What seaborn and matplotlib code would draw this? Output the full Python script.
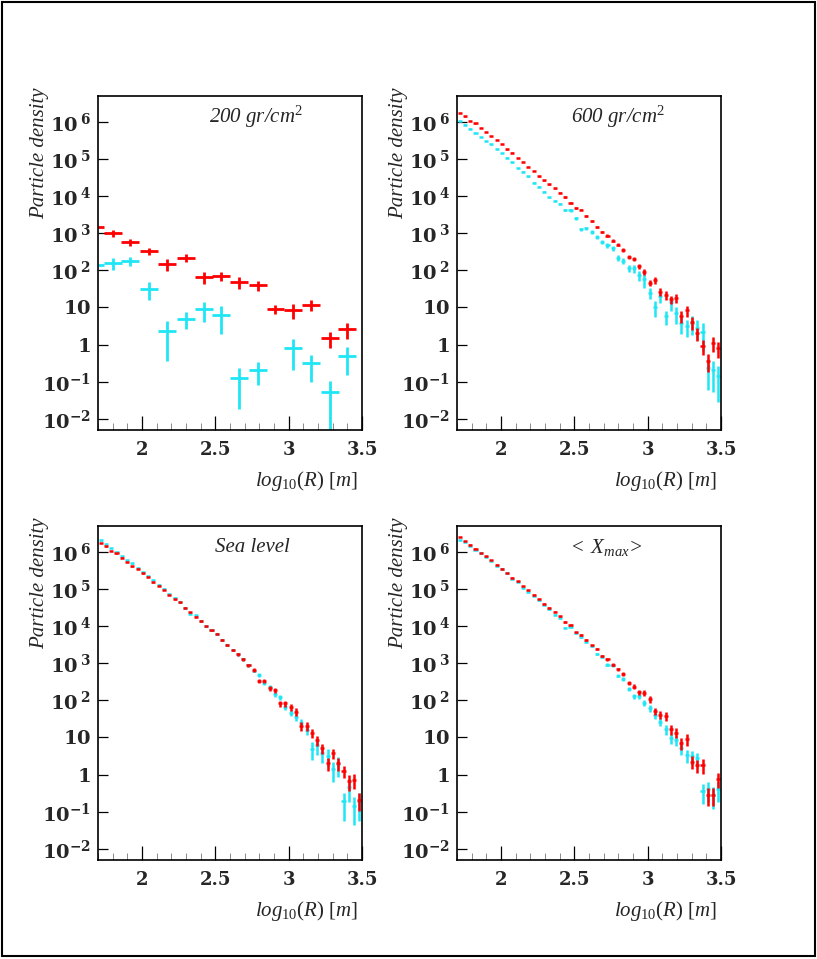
import numpy as np
import matplotlib
matplotlib.use("Agg")
import matplotlib.pyplot as plt
import matplotlib.ticker as mticker
from matplotlib.patches import Rectangle
import seaborn as sns

# bin centres in log10(R) [m]
r_coarse = [1.68, 1.80, 1.92, 2.05, 2.17, 2.30, 2.42, 2.54, 2.66, 2.79, 2.91, 3.03, 3.15, 3.28, 3.40]
r_fine = [1.718, 1.754, 1.790, 1.826, 1.862, 1.898, 1.934, 1.970, 2.006, 2.042,
          2.078, 2.114, 2.150, 2.186, 2.222, 2.258, 2.294, 2.330, 2.366, 2.402,
          2.438, 2.474, 2.510, 2.546, 2.582, 2.618, 2.654, 2.690, 2.726, 2.762,
          2.798, 2.834, 2.870, 2.906, 2.942, 2.978, 3.014, 3.050, 3.086, 3.122,
          3.158, 3.194, 3.230, 3.266, 3.302, 3.338, 3.374, 3.410, 3.446, 3.482]

# log10 of particle density (red / cyan series)
red_200 = [3.18, 3.00, 2.76, 2.52, 2.17, 2.34, 1.82, 1.86, 1.70, 1.61, 0.96, 0.94, 1.08, 0.17, 0.42]
cyan_200 = [2.15, 2.21, 2.25, 1.50, 0.37, 0.70, 0.96, 0.80, -0.90, -0.68, np.nan, -0.09, -0.50, -1.27, -0.30]
red_200_err = [0.20, 0.20, 0.20, 0.23, 0.33, 0.25, 0.36, 0.28, 0.36, 0.30, 0.27, 0.42, 0.33, 0.45, 0.45]
cyan_200_err = [0.30, 0.35, 0.28, 0.50, 0.85, 0.48, 0.55, 0.70, 0.85, 0.60, np.nan, 0.75, 0.68, 0.95, 0.70]

red_600 = [6.25, 6.15, 6.03, 5.96, 5.84, 5.73, 5.62, 5.51, 5.40, 5.26,
           5.17, 5.03, 4.92, 4.79, 4.68, 4.54, 4.43, 4.32, 4.21, 4.09,
           3.98, 3.82, 3.68, 3.64, 3.47, 3.33, 3.18, 3.04, 2.93, 2.80,
           2.69, 2.55, 2.37, 2.31, 2.12, 1.96, 1.67, 1.73, 1.43, 1.34,
           1.22, 1.25, 0.78, 0.92, 0.61, 0.31, -0.03, -0.43, 0.04, -0.09]
cyan_600 = [6.03, 5.93, 5.82, 5.71, 5.60, 5.49, 5.40, 5.27, 5.17, 5.04,
            4.91, 4.76, 4.66, 4.54, 4.36, 4.25, 4.12, 3.97, 3.88, 3.80,
            3.64, 3.62, 3.40, 3.11, 3.14, 3.03, 2.91, 2.76, 2.68, 2.59,
            2.34, 2.26, 2.06, 2.06, 1.87, 1.76, 1.40, 1.01, 1.30, 0.76,
            1.14, 0.85, 0.58, 0.49, 0.58, 0.46, 0.35, -0.63, -0.68, -0.84]
red_600_err = [0.01, 0.01, 0.01, 0.01, 0.01, 0.01, 0.01, 0.01, 0.01, 0.01,
               0.02, 0.02, 0.02, 0.02, 0.02, 0.03, 0.03, 0.03, 0.03, 0.04,
               0.04, 0.05, 0.05, 0.05, 0.06, 0.07, 0.07, 0.08, 0.09, 0.10,
               0.10, 0.11, 0.13, 0.14, 0.16, 0.18, 0.20, 0.20, 0.24, 0.25,
               0.26, 0.26, 0.35, 0.32, 0.38, 0.40, 0.45, 0.50, 0.42, 0.45]
cyan_600_err = [0.01, 0.01, 0.01, 0.01, 0.01, 0.01, 0.01, 0.01, 0.01, 0.01,
                0.02, 0.02, 0.02, 0.03, 0.03, 0.03, 0.04, 0.04, 0.05, 0.05,
                0.06, 0.08, 0.08, 0.09, 0.10, 0.11, 0.12, 0.13, 0.16, 0.17,
                0.20, 0.20, 0.23, 0.25, 0.30, 0.40, 0.32, 0.45, 0.35, 0.40,
                0.42, 0.48, 0.50, 0.48, 0.52, 0.55, 0.70, 0.75, 0.75, 0.80]

red_sea = [6.24, 6.15, 6.03, 5.96, 5.85, 5.73, 5.61, 5.55, 5.42, 5.33,
           5.18, 5.09, 4.97, 4.84, 4.72, 4.64, 4.50, 4.38, 4.25, 4.14,
           4.00, 3.89, 3.80, 3.63, 3.49, 3.36, 3.24, 3.11, 2.94, 2.82,
           2.53, 2.53, 2.33, 2.28, 1.92, 1.92, 1.82, 1.70, 1.31, 1.31,
           1.12, 0.92, 0.71, 0.31, 0.58, 0.31, 0.09, -0.18, -0.14, -0.68]
cyan_sea = [6.31, 6.22, 6.11, 6.00, 5.89, 5.78, 5.69, 5.57, 5.45, 5.35,
            5.24, 5.12, 5.01, 4.86, 4.77, 4.64, 4.50, 4.34, 4.30, 4.14,
            4.00, 3.89, 3.80, 3.64, 3.49, 3.36, 3.24, 3.11, 2.94, 2.80,
            2.68, 2.48, 2.37, 2.17, 2.08, 1.83, 1.67, 1.55, 1.40, 1.21,
            0.69, 0.80, 0.58, 0.51, 0.15, 0.29, -0.72, -0.33, -0.84, -0.72]
red_sea_err = [0.01, 0.01, 0.01, 0.01, 0.01, 0.01, 0.01, 0.01, 0.01, 0.01,
               0.01, 0.02, 0.02, 0.02, 0.02, 0.02, 0.03, 0.03, 0.03, 0.04,
               0.04, 0.04, 0.05, 0.05, 0.06, 0.06, 0.07, 0.08, 0.09, 0.10,
               0.12, 0.12, 0.14, 0.15, 0.18, 0.18, 0.20, 0.22, 0.26, 0.26,
               0.25, 0.30, 0.30, 0.40, 0.32, 0.38, 0.35, 0.45, 0.45, 0.50]
cyan_sea_err = [0.01, 0.01, 0.01, 0.01, 0.01, 0.01, 0.01, 0.01, 0.01, 0.01,
                0.01, 0.02, 0.02, 0.02, 0.02, 0.02, 0.03, 0.03, 0.03, 0.04,
                0.04, 0.04, 0.05, 0.05, 0.06, 0.06, 0.07, 0.08, 0.09, 0.10,
                0.11, 0.12, 0.13, 0.15, 0.16, 0.18, 0.20, 0.22, 0.25, 0.28,
                0.50, 0.45, 0.45, 0.50, 0.55, 0.55, 0.70, 0.60, 0.70, 0.70]

red_xmax = [6.40, 6.30, 6.20, 6.09, 5.98, 5.88, 5.78, 5.66, 5.55, 5.44,
            5.31, 5.21, 5.08, 4.97, 4.85, 4.73, 4.61, 4.50, 4.39, 4.27,
            4.11, 4.03, 3.83, 3.76, 3.63, 3.48, 3.39, 3.20, 3.11, 2.96,
            2.84, 2.72, 2.47, 2.37, 2.22, 2.21, 2.03, 1.72, 1.61, 1.59,
            1.22, 1.13, 0.85, 0.96, 0.35, 0.26, 0.26, -0.54, -0.54, -0.11]
cyan_xmax = [6.33, 6.26, 6.16, 6.06, 5.96, 5.87, 5.75, 5.63, 5.53, 5.42,
             5.28, 5.19, 5.04, 4.93, 4.82, 4.70, 4.57, 4.45, 4.31, 4.21,
             3.96, 3.98, 3.82, 3.71, 3.58, 3.46, 3.25, 3.18, 2.96, 2.94,
             2.67, 2.57, 2.31, 2.12, 2.11, 1.94, 1.79, 1.61, 1.43, 1.22,
             0.98, 0.93, 0.71, 0.53, 0.49, 0.44, -0.45, -0.39, -0.54, -0.40]
red_xmax_err = [0.01, 0.01, 0.01, 0.01, 0.01, 0.01, 0.01, 0.01, 0.01, 0.01,
                0.01, 0.02, 0.02, 0.02, 0.02, 0.02, 0.03, 0.03, 0.03, 0.04,
                0.04, 0.04, 0.05, 0.05, 0.06, 0.06, 0.07, 0.08, 0.09, 0.10,
                0.11, 0.12, 0.13, 0.15, 0.16, 0.18, 0.20, 0.22, 0.25, 0.28,
                0.28, 0.30, 0.34, 0.36, 0.38, 0.40, 0.42, 0.50, 0.50, 0.45]
cyan_xmax_err = [0.01, 0.01, 0.01, 0.01, 0.01, 0.01, 0.01, 0.01, 0.01, 0.01,
                 0.01, 0.02, 0.02, 0.02, 0.02, 0.02, 0.03, 0.03, 0.03, 0.04,
                 0.04, 0.04, 0.05, 0.05, 0.06, 0.06, 0.07, 0.08, 0.09, 0.10,
                 0.11, 0.12, 0.13, 0.15, 0.16, 0.18, 0.20, 0.22, 0.25, 0.28,
                 0.30, 0.32, 0.35, 0.38, 0.40, 0.42, 0.55, 0.55, 0.60, 0.55]

panel_titles = ["200 gr/cm$^{2}$", "600 gr/cm$^{2}$", "Sea level", r"$<\ X_{max}$>"]
title_x = [0.60, 0.61, 0.585, 0.56]
ytick_vals = [1e-2, 1e-1, 1, 10, 1e2, 1e3, 1e4, 1e5, 1e6]
ytick_labels = [r"$\mathbf{10^{-2}}$", r"$\mathbf{10^{-1}}$", r"$\mathbf{1}$", r"$\mathbf{10}$",
                r"$\mathbf{10^{\ 2}}$", r"$\mathbf{10^{\ 3}}$", r"$\mathbf{10^{\ 4}}$",
                r"$\mathbf{10^{\ 5}}$", r"$\mathbf{10^{\ 6}}$"]

RED = "#ff0000"
CYAN = "#1fe6f5"

sns.set_style("white")
plt.rcParams["mathtext.fontset"] = "custom"
plt.rcParams["mathtext.rm"] = "Liberation Serif"
plt.rcParams["mathtext.it"] = "Liberation Serif:italic"
plt.rcParams["mathtext.bf"] = "DejaVu Serif:bold"
plt.rcParams["font.family"] = ["Liberation Serif", "DejaVu Serif"]

fig = plt.figure(figsize=(8.17, 9.59), dpi=100)
W, H = 817, 959
boxes = [(98, 96), (457, 96), (98, 526), (457, 526)]  # left, top in pixels
aw, ah = 264, 334

data = [
    (r_coarse, red_200, red_200_err, cyan_200, cyan_200_err, 0.061, 2.0),
    (r_fine, red_600, red_600_err, cyan_600, cyan_600_err, 0.014, 1.8),
    (r_fine, red_sea, red_sea_err, cyan_sea, cyan_sea_err, 0.014, 1.8),
    (r_fine, red_xmax, red_xmax_err, cyan_xmax, cyan_xmax_err, 0.014, 1.8),
]

for i, (left, top) in enumerate(boxes):
    ax = fig.add_axes([left / W, 1 - (top + ah) / H, aw / W, ah / H])
    x, red, red_err, cyan, cyan_err, hw, lw = data[i]
    for logv, rel, col in [(cyan, cyan_err, CYAN), (red, red_err, RED)]:
        v = 10 ** np.array(logv, dtype=float)
        e = v * np.array(rel, dtype=float)
        lo = np.minimum(e, v * 0.999)
        ax.errorbar(x, v, xerr=hw, yerr=[lo, e], fmt="none", ecolor=col,
                    elinewidth=lw, capsize=0)
    ax.set_yscale("log")
    ax.set_xlim(1.7, 3.5)
    ax.set_ylim(5e-3, 5e6)
    ax.yaxis.set_major_locator(mticker.FixedLocator(ytick_vals))
    ax.yaxis.set_major_formatter(mticker.FixedFormatter(ytick_labels))
    ax.yaxis.set_minor_locator(mticker.LogLocator(base=10, subs=np.arange(2, 10)))
    ax.yaxis.set_minor_formatter(mticker.NullFormatter())
    ax.xaxis.set_major_locator(mticker.FixedLocator([2, 2.5, 3, 3.5]))
    ax.xaxis.set_major_formatter(mticker.FixedFormatter(["2", "2.5", "3", "3.5"]))
    ax.xaxis.set_minor_locator(mticker.MultipleLocator(0.1))
    ax.tick_params(axis="both", which="major", direction="in", top=False, right=False,
                   left=True, bottom=True, color="black")
    ax.tick_params(axis="both", which="minor", direction="in", top=False, right=False,
                   left=True, bottom=True, color="#777777")
    ax.tick_params(axis="y", which="major", length=7, width=0.9, pad=5, labelsize=14)
    ax.tick_params(axis="y", which="minor", length=4, width=0.6)
    ax.tick_params(axis="x", which="major", length=10, width=0.9, pad=8, labelsize=13)
    ax.tick_params(axis="x", which="minor", length=5, width=0.6)
    for lab in ax.get_xticklabels():
        lab.set_fontfamily("DejaVu Serif")
        lab.set_fontweight("bold")
    for s in ax.spines.values():
        s.set_color("black")
        s.set_linewidth(1.2)
    ax.text(title_x[i], 0.937, panel_titles[i], transform=ax.transAxes, ha="center",
            va="center", fontsize=15, fontstyle="italic")
    ax.text(-0.22, 1.024, "Particle density", transform=ax.transAxes, rotation=90,
            ha="center", va="top", fontsize=15, fontstyle="italic")
    ax.text(0.985, -0.153, r"$log_{10}(R)\ [m]$", transform=ax.transAxes,
            ha="right", va="center", fontsize=15)

fig.patches.append(Rectangle((2 / W, 3 / H), 813 / W, 954 / H, transform=fig.transFigure,
                             fill=False, edgecolor="black", linewidth=1.5))

fig.savefig("out.png", dpi=100)
